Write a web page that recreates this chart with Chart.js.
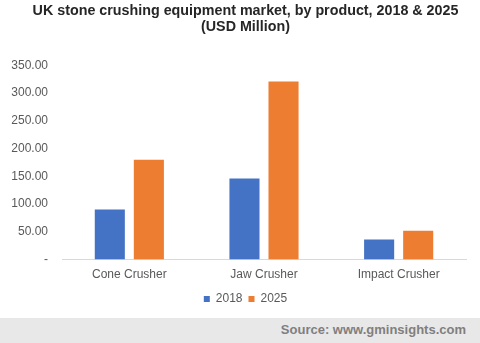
<!DOCTYPE html>
<html>
<head>
<meta charset="utf-8">
<script src="https://cdn.jsdelivr.net/npm/chart.js@4"></script>
<style>
  html, body { margin: 0; padding: 0; background: #fff; }
  #wrap { position: relative; width: 480px; height: 343px; overflow: hidden; }
  #chartBox { position: absolute; left: 0; top: 0; width: 480px; height: 318px; }
  #source {
    position: absolute; left: 0; top: 318px; width: 480px; height: 25px;
    background: #e8e8e8; color: #7f7f7f;
    font: bold 13px "Liberation Sans", Arial, sans-serif;
    text-align: right; line-height: 23px; box-sizing: border-box; padding-right: 14px;
  }
</style>
</head>
<body>
<div id="wrap">
  <div id="chartBox"><canvas id="productChart"></canvas></div>
  <div id="source">Source: www.gminsights.com</div>
</div>
<script>
// Market size by product (USD Million)
const products = ["Cone Crusher", "Jaw Crusher", "Impact Crusher"];
const values2018 = [90, 146, 36];
const values2025 = [180, 321, 52];
const yTicks = [0, 50, 100, 150, 200, 250, 300, 350];

const fontFamily = '"Liberation Sans", Arial, sans-serif';

new Chart(document.getElementById("productChart").getContext("2d"), {
  type: "bar",
  data: {
    labels: products,
    datasets: [
      { label: "2018", data: values2018, backgroundColor: "#4472c4" },
      { label: "2025", data: values2025, backgroundColor: "#ed7d31" },
    ],
  },
  options: {
    responsive: true,
    maintainAspectRatio: false,
    animation: false,
    datasets: { bar: { categoryPercentage: 0.58, barPercentage: 0.77 } },
    layout: { padding: { left: 11, right: 0, top: 3, bottom: 3 } },
    plugins: {
      title: {
        display: true,
        text: ["UK stone crushing equipment market, by product, 2018 & 2025", "(USD Million)"],
        color: "#262626",
        font: { family: fontFamily, size: 14.3, weight: "bold", lineHeight: 1.13 },
        padding: { top: 0, bottom: 30 },
      },
      legend: {
        position: "bottom",
        labels: {
          color: "#595959",
          font: { family: fontFamily, size: 12 },
          boxWidth: 6,
          boxHeight: 6,
          padding: 6,
        },
      },
      tooltip: { enabled: false },
    },
    scales: {
      x: {
        afterFit: (scale) => { scale.height = 27.5; },
        grid: { display: false },
        border: { color: "#d9d9d9" },
        ticks: { color: "#595959", font: { family: fontFamily, size: 12 }, padding: 0 },
      },
      y: {
        min: 0,
        max: 350,
        afterFit: (scale) => { scale.width = 51; },
        afterBuildTicks: (scale) => { scale.ticks = yTicks.map((v) => ({ value: v })); },
        grid: { display: false },
        border: { display: false },
        ticks: {
          color: "#595959",
          font: { family: fontFamily, size: 12 },
          padding: 6,
          callback: (v) => (v === 0 ? "-" : v.toFixed(2)),
        },
      },
      // empty right-hand axis that only reserves the right margin
      gutter: {
        type: "linear",
        position: "right",
        afterFit: (scale) => { scale.width = 14; },
        grid: { display: false },
        border: { display: false },
        ticks: { display: false },
      },
    },
  },
});
</script>
</body>
</html>
